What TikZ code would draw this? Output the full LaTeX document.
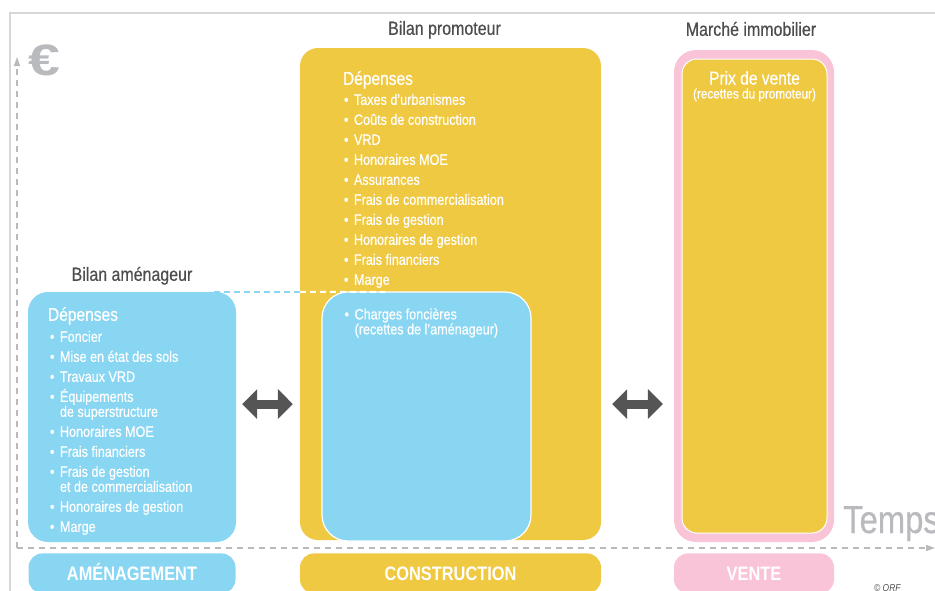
\documentclass[tikz,border=0pt]{standalone}
\usepackage{fontspec}
\setmainfont{Liberation Sans}[FakeStretch=0.84, UprightFeatures={FakeBold=0.5}]
\newfontfamily\largefont{Liberation Sans}
\usetikzlibrary{arrows.meta,positioning}
\definecolor{bleu}{RGB}{137,214,243}
\definecolor{jaune}{RGB}{239,201,66}
\definecolor{rose}{RGB}{249,196,216}
\definecolor{grisfonce}{RGB}{85,85,85}
\definecolor{gristexte}{RGB}{77,77,77}
\definecolor{grisclair}{RGB}{185,186,190}
\definecolor{griscadre}{RGB}{215,215,215}
\newcommand\puce{\makebox[10pt][l]{•}}
\newcommand\suite{\hspace*{10pt}}

\begin{document}
\begin{tikzpicture}[x=1pt,y=-1pt]
  \tikzstyle{bloc} = [rectangle, inner sep=0pt, draw=none]
  \tikzstyle{titre} = [font=\fontsize{19}{19}\selectfont, text=gristexte, inner sep=0pt]
  \tikzstyle{entete} = [font=\fontsize{18.5}{18.5}\selectfont, text=white, inner sep=0pt]
  \tikzstyle{liste} = [font=\fontsize{15}{15}\selectfont, text=white, inner sep=0pt, align=left]
  \tikzstyle{etiquette} = [rectangle, rounded corners=14pt, minimum height=40pt, inner sep=0pt, text=white, font=\bfseries\fontsize{19.5}{19.5}\selectfont, text height=14pt, text depth=0pt]
  \tikzstyle{fleche} = [grisfonce, line width=9pt, {Triangle[length=15pt,width=29pt]}-{Triangle[length=15pt,width=29pt]}]
  \tikzstyle{axe} = [grisclair, line width=1.5pt, dash pattern=on 6pt off 5pt, -{Triangle[length=9pt,width=6pt]}]

  \useasboundingbox (0,0) rectangle (935,590);

  % cadre
  \draw[griscadre, line width=1.5pt] (936,13) -- (10,13) -- (10,600);

  % les trois bilans
  \node[bloc, fill=bleu, rounded corners=20pt, minimum width=208pt, minimum height=250pt] (am) at (132,417) {};
  \node[bloc, fill=jaune, rounded corners=18pt, minimum width=301pt, minimum height=492pt] (prom) at (450.5,294) {};
  \node[bloc, fill=bleu, draw=white, line width=1.2pt, rounded corners=26pt, minimum width=209pt, minimum height=249pt] (charges) at (426.5,416.5) {};
  \node[bloc, fill=rose, rounded corners=22pt, minimum width=160pt, minimum height=492pt] (vente) at (754,296) {};
  \node[bloc, fill=jaune, draw=white, line width=1pt, rounded corners=15pt, minimum width=145pt, minimum height=474pt] (prix) at (754.5,296) {};

  \node[titre, above=11pt of am.north, anchor=base] (bilanam) {Bilan aménageur};
  \node[titre, above=13pt of prom.north, anchor=base, xshift=-6pt] (bilanprom) {Bilan promoteur};
  \node[titre, above=14pt of vente.north, anchor=base, xshift=-3pt] (marche) {Marché immobilier};

  % contenu (ancre sur la derniere ligne)
  \node[entete, anchor=base west] (depam) at ([xshift=20pt,yshift=-29pt]am.north west) {Dépenses};
  \node[liste, anchor=base west] (listeam) at ([xshift=2pt,yshift=-211pt]depam.base west) {\puce Foncier\\[5pt]
    \puce Mise en état des sols\\[5pt]
    \puce Travaux VRD\\[5pt]
    \puce Équipements\\
    \suite de superstructure\\[5pt]
    \puce Honoraires MOE\\[5pt]
    \puce Frais financiers\\[5pt]
    \puce Frais de gestion\\
    \suite et de commercialisation\\[5pt]
    \puce Honoraires de gestion\\[5pt]
    \puce Marge};

  \node[entete, anchor=base west] (depprom) at ([xshift=43pt,yshift=-37pt]prom.north west) {Dépenses};
  \node[liste, anchor=base west] (listeprom) at ([xshift=1pt,yshift=-200pt]depprom.base west) {\puce Taxes d’urbanismes\\[5pt]
    \puce Coûts de construction\\[5pt]
    \puce VRD\\[5pt]
    \puce Honoraires MOE\\[5pt]
    \puce Assurances\\[5pt]
    \puce Frais de commercialisation\\[5pt]
    \puce Frais de gestion\\[5pt]
    \puce Honoraires de gestion\\[5pt]
    \puce Frais financiers\\[5pt]
    \puce Marge};
  \node[liste, anchor=base west] (listecharges) at ([xshift=23pt,yshift=-43pt]charges.north west) {\puce Charges foncières\\
    \suite (recettes de l’aménageur)};

  \node[entete, anchor=base] (prixvente) at ([yshift=-26pt]prix.north) {Prix de vente};
  \node[font=\fontsize{14}{14}\selectfont, text=white, inner sep=0pt, anchor=base] (recettes) at ([yshift=-14pt]prixvente.base) {(recettes du promoteur)};

  % etapes
  \node[etiquette, fill=bleu, minimum width=207pt, below=11pt of am.south] (amenagement) {AMÉNAGEMENT};
  \node[etiquette, fill=jaune, minimum width=301pt, below=13pt of prom.south] (construction) {CONSTRUCTION};
  \node[etiquette, fill=rose, minimum width=160pt, below=11pt of vente.south] (venteetape) {VENTE};

  % liaison foncier
  \coordinate (finpointille) at (385,292);
  \draw[bleu, line width=2pt, dash pattern=on 6pt off 4pt] ([xshift=-22pt]am.north east) -- (am.north east -| prom.west);
  \draw[white, line width=2pt, dash pattern=on 6pt off 4pt] (am.north east -| prom.west) -- (finpointille);

  \coordinate (niveau) at (0,404);
  \draw[fleche, shorten <=6pt, shorten >=7pt] (am.east |- niveau) -- (prom.west |- niveau);
  \draw[fleche, shorten <=11pt, shorten >=11pt] (prom.east |- niveau) -- (vente.west |- niveau);

  % axes
  \coordinate (origine) at (17,548);
  \coordinate (haut) at (17,57);
  \coordinate (droite) at (935,548);
  \draw[axe] (origine) -- (haut);
  \draw[axe] (origine) -- (droite);
  \node[font=\largefont\bfseries\fontsize{44}{44}\selectfont, text=grisclair, inner sep=0pt, anchor=base west] (euro) at (28,75) {\scalebox{1.3}[1]{€}};
  \node[font=\fontsize{39}{39}\selectfont, text=grisclair, inner sep=0pt, anchor=base west] (temps) at (843,533) {Temps};
  \node[font=\itshape\fontsize{10}{10}\selectfont, text=gristexte, inner sep=0pt, anchor=base west] (credit) at (874,591) {© ORF};
\end{tikzpicture}
\end{document}
